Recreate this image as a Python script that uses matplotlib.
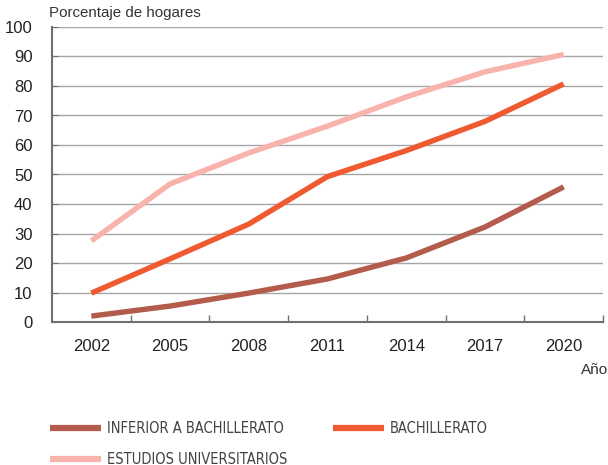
import matplotlib
matplotlib.use("Agg")
import matplotlib.pyplot as plt
from matplotlib.lines import Line2D
from matplotlib import font_manager

# datos
years = ['2002', '2005', '2008', '2011', '2014', '2017', '2020']
inferior = [2.0, 5.4, 9.8, 14.6, 21.7, 32.2, 45.8]
bachillerato = [9.8, 21.4, 33.2, 49.3, 58.1, 68.0, 80.7]
universitarios = [27.5, 46.8, 57.3, 66.4, 76.3, 84.8, 90.7]
labels = ['INFERIOR A BACHILLERATO', 'BACHILLERATO', 'ESTUDIOS UNIVERSITARIOS']
colors = ['#b35c4c', '#f05a30', '#f9b3ad']

# buscar una fuente estrecha para la leyenda
narrow_file = None
for f in font_manager.fontManager.ttflist:
    fn = f.fname.lower()
    if ('narrow' in fn or 'condensed' in fn) and 'bold' not in fn and 'oblique' not in fn and 'italic' not in fn:
        narrow_file = f.fname
        break
if narrow_file:
    legend_font = font_manager.FontProperties(fname=narrow_file, size=10.5)
else:
    legend_font = font_manager.FontProperties(family='Liberation Sans', size=9.2)

plt.rcParams['font.family'] = ['Liberation Sans', 'DejaVu Sans']

W, H = 608, 465
fig = plt.figure(figsize=(W / 100, H / 100), dpi=100)
ax = fig.add_axes([52 / W, 1 - 322 / H, 551 / W, 295 / H])

x = range(len(years))
for vals, c in zip([inferior, bachillerato, universitarios], colors):
    ax.plot(x, vals, color=c, lw=3.9, solid_capstyle='butt', zorder=3)

ax.set_xlim(-0.5, len(years) - 0.5)
ax.set_ylim(0, 100)
ax.set_yticks(range(0, 101, 10))
ax.set_xticks(list(x))
ax.set_xticklabels(years)
ax.set_xticks([i + 0.5 for i in x], minor=True)

ax.grid(axis='y', color='#a6a6a6', lw=1.0)
ax.set_axisbelow(True)
for s in ['top', 'right']:
    ax.spines[s].set_visible(False)
for s in ['left', 'bottom']:
    ax.spines[s].set_color('#707070')
    ax.spines[s].set_linewidth(1.5)

ax.tick_params(axis='y', direction='in', length=4, color='#707070', labelsize=12, labelcolor='#222222', pad=14)
ax.tick_params(axis='x', which='major', length=0, labelsize=12, labelcolor='#222222', pad=12)
ax.tick_params(axis='x', which='minor', direction='in', length=5, color='#707070', width=1)

fig.text(49 / W, 1 - 13 / H, 'Porcentaje de hogares', fontsize=10.9, color='#333333', va='center', ha='left')
fig.text(581 / W, 1 - 370 / H, 'Año', fontsize=11, color='#333333', va='center', ha='left')

# leyenda colocada a mano
leg_rows = [(50, 428, 0), (333, 428, 1), (50, 459, 2)]
for lx, ly, i in leg_rows:
    fig.add_artist(Line2D([lx / W, (lx + 51) / W], [1 - ly / H, 1 - ly / H], color=colors[i],
                          lw=4.5, solid_capstyle='butt', transform=fig.transFigure))
    fig.text((lx + 57) / W, 1 - ly / H, labels[i], fontproperties=legend_font, color='#444444',
             va='center', ha='left')

fig.savefig('out.png', dpi=100)
